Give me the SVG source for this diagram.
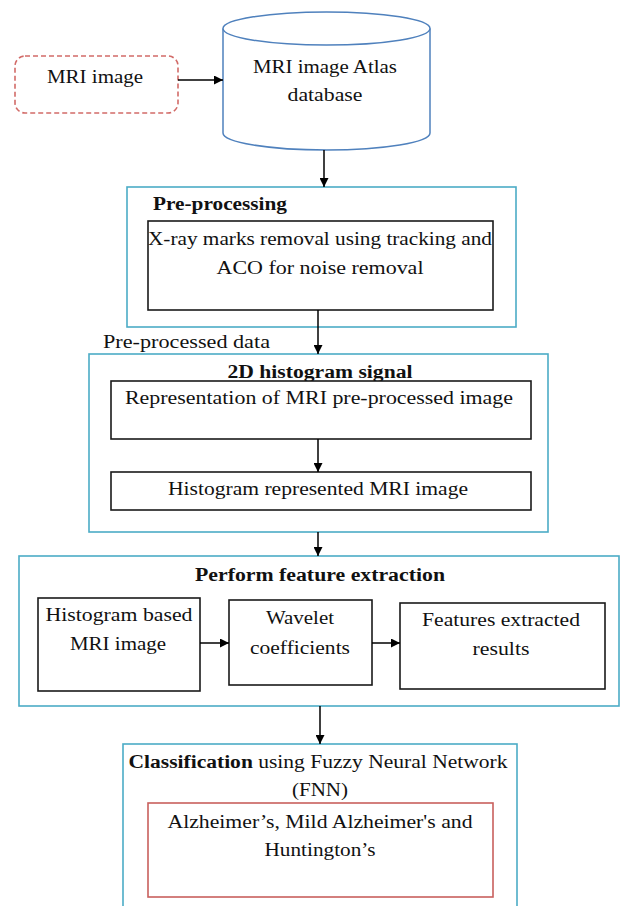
<svg xmlns="http://www.w3.org/2000/svg" width="624" height="906" viewBox="0 0 624 906">
<defs>
<marker id="ah" viewBox="0 0 10 10" refX="10" refY="5" markerWidth="9" markerHeight="9" markerUnits="userSpaceOnUse" orient="auto">
<path d="M0,0 L10,5 L0,10 Z" fill="#000"/>
</marker>
<style>
text{font-family:"Liberation Serif","DejaVu Serif",serif;font-size:18px;fill:#111;}
.b{font-weight:bold;}
.c{text-anchor:middle;}
.aqua{fill:#fff;stroke:#4bacc6;stroke-width:1.6;}
.blk{fill:#fff;stroke:#1a1a1a;stroke-width:1.6;}
.red{fill:#fff;stroke:#c9605d;stroke-width:1.6;}
.con line{stroke:#000;stroke-width:1.5;marker-end:url(#ah);}
</style>
</defs>
<rect width="624" height="906" fill="#fff"/>

<g id="mri-image">
<rect x="15" y="56" width="163" height="57" rx="10" ry="10" fill="#fff" stroke="#d26b68" stroke-width="1.6" stroke-dasharray="5,3"/>
<text x="95" y="83" class="c" textLength="96" lengthAdjust="spacingAndGlyphs">MRI image</text>
</g>

<g id="atlas-db">
<path d="M223,28.5 L223,133 A103.5,17 0 0 0 430,133 L430,28.5" fill="#fff" stroke="#4f81bd" stroke-width="1.5"/>
<ellipse cx="326.5" cy="28.5" rx="103.5" ry="16.5" fill="#fff" stroke="#4f81bd" stroke-width="1.5"/>
<text x="325" y="73" class="c" textLength="144" lengthAdjust="spacingAndGlyphs">MRI image Atlas</text>
<text x="325" y="101" class="c" textLength="75" lengthAdjust="spacingAndGlyphs">database</text>
</g>

<g id="preprocessing">
<rect x="127" y="187" width="389" height="140" class="aqua"/>
<text x="220" y="210" class="b c" textLength="134" lengthAdjust="spacingAndGlyphs">Pre-processing</text>
<rect x="148" y="221" width="345" height="89" class="blk"/>
<text x="320" y="245" class="c" textLength="344" lengthAdjust="spacingAndGlyphs">X-ray marks removal using tracking and</text>
<text x="320" y="274" class="c" textLength="207" lengthAdjust="spacingAndGlyphs">ACO for noise removal</text>
</g>

<g id="preprocessed-label">
<text x="103" y="348" textLength="167" lengthAdjust="spacingAndGlyphs">Pre-processed data</text>
</g>

<g id="histogram-signal">
<rect x="89" y="354" width="459" height="178" class="aqua"/>
<text x="320" y="378" class="b c" textLength="185" lengthAdjust="spacingAndGlyphs">2D histogram signal</text>
<rect x="111" y="381" width="420" height="58" class="blk"/>
<text x="319" y="404" class="c" textLength="388" lengthAdjust="spacingAndGlyphs">Representation of MRI pre-processed image</text>
<rect x="111" y="472" width="420" height="38" class="blk"/>
<text x="318" y="495" class="c" textLength="300" lengthAdjust="spacingAndGlyphs">Histogram represented MRI image</text>
</g>

<g id="feature-extraction">
<rect x="19" y="556" width="600" height="150" class="aqua"/>
<text x="320" y="581" class="b c" textLength="250" lengthAdjust="spacingAndGlyphs">Perform feature extraction</text>
<rect x="38" y="598" width="162" height="93" class="blk"/>
<text x="119" y="621" class="c" textLength="147" lengthAdjust="spacingAndGlyphs">Histogram based</text>
<text x="118" y="650" class="c" textLength="96" lengthAdjust="spacingAndGlyphs">MRI image</text>
<rect x="229" y="600" width="143" height="85" class="blk"/>
<text x="300" y="624" class="c" textLength="68" lengthAdjust="spacingAndGlyphs">Wavelet</text>
<text x="300" y="654" class="c" textLength="100" lengthAdjust="spacingAndGlyphs">coefficients</text>
<rect x="400" y="603" width="205" height="86" class="blk"/>
<text x="501" y="626" class="c" textLength="158" lengthAdjust="spacingAndGlyphs">Features extracted</text>
<text x="501" y="655" class="c" textLength="57" lengthAdjust="spacingAndGlyphs">results</text>
</g>

<g id="classification">
<rect x="123" y="744" width="394" height="170" class="aqua"/>
<text x="318" y="768" class="c" textLength="379" lengthAdjust="spacingAndGlyphs"><tspan class="b">Classification</tspan> using Fuzzy Neural Network</text>
<text x="320" y="796" class="c" textLength="56" lengthAdjust="spacingAndGlyphs">(FNN)</text>
<rect x="148" y="803" width="345" height="94" class="red"/>
<text x="320" y="828" class="c" textLength="305" lengthAdjust="spacingAndGlyphs">Alzheimer’s, Mild Alzheimer's and</text>
<text x="320" y="856" class="c" textLength="111" lengthAdjust="spacingAndGlyphs">Huntington’s</text>
</g>

<g id="connectors" class="con">
<line x1="178" y1="80" x2="223" y2="80"/>
<line x1="324" y1="150" x2="324" y2="187"/>
<line x1="318" y1="310" x2="318" y2="354"/>
<line x1="318" y1="439" x2="318" y2="472"/>
<line x1="318" y1="532" x2="318" y2="556"/>
<line x1="200" y1="643" x2="229" y2="643"/>
<line x1="372" y1="643" x2="400" y2="643"/>
<line x1="320" y1="706" x2="320" y2="744"/>
</g>
</svg>
